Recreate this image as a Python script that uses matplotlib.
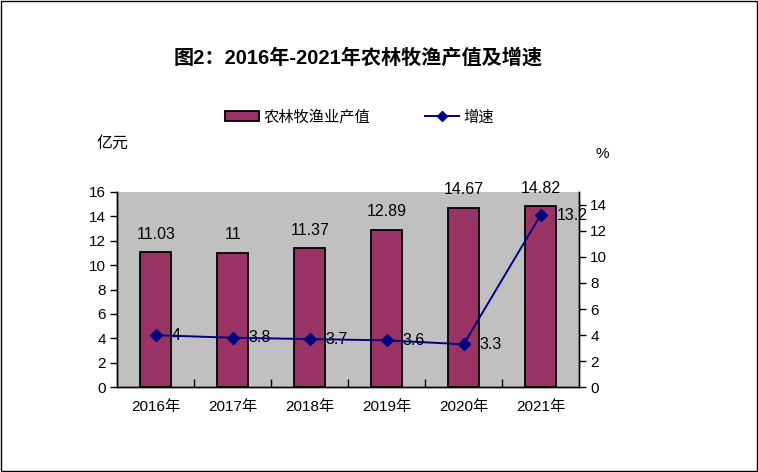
import matplotlib
matplotlib.use('Agg')
import matplotlib.pyplot as plt
import matplotlib.patches as mpatches
from matplotlib.lines import Line2D

plt.rcParams['font.family'] = ['Liberation Sans', 'Noto Sans CJK SC', 'DejaVu Sans']

# Du lieu
years = ['2016年', '2017年', '2018年', '2019年', '2020年', '2021年']
output_value = [11.03, 11, 11.37, 12.89, 14.67, 14.82]   # 亿元
growth = [4, 3.8, 3.7, 3.6, 3.3, 13.2]                   # %
value_labels = ['11.03', '11', '11.37', '12.89', '14.67', '14.82']
growth_labels = ['4', '3.8', '3.7', '3.6', '3.3', '13.2']

BAR = '#993366'
LINE = '#000080'
GRAY = '#C0C0C0'

fig = plt.figure(figsize=(7.58, 4.72), dpi=100, facecolor='white')
ax = fig.add_axes([0.1548, 0.1794, 0.6091, 0.4145])
ax.set_facecolor(GRAY)

x = list(range(len(years)))
ax.bar(x, output_value, width=0.40, color=BAR, edgecolor='black', linewidth=1.3, zorder=2)
ax.set_xlim(-0.5, len(years) - 0.5)
ax.set_ylim(0, 16)
ax.set_yticks(range(0, 17, 2))

for xi, v, lab in zip(x, output_value, value_labels):
    ax.annotate(lab, (xi, v), xytext=(0, 13), textcoords='offset points',
                ha='center', va='center', fontsize=11.5, color='black',
                annotation_clip=False)

ax2 = ax.twinx()
ax2.set_ylim(0, 15)
ax2.set_yticks(range(0, 15, 2))
ax2.plot(x, growth, color=LINE, linewidth=1.4, marker='D', markersize=6,
         markerfacecolor=LINE, markeredgecolor=LINE, zorder=5)
for xi, g, lab in zip(x, growth, growth_labels):
    ax2.annotate(lab, (xi, g), xytext=(11.5, 0), textcoords='offset points',
                 ha='left', va='center', fontsize=11.5, color='black')

# Truc
for a in (ax, ax2):
    a.spines['top'].set_visible(False)
    for s in ('left', 'right', 'bottom'):
        a.spines[s].set_color('black')
        a.spines[s].set_linewidth(1.0)

ax.tick_params(axis='y', direction='out', length=5, width=1, labelsize=11, pad=3)
ax2.tick_params(axis='y', direction='out', length=5, width=1, labelsize=11, pad=3)
ax.set_xticks(x)
ax.set_xticklabels(years, fontsize=11)
ax.tick_params(axis='x', length=0, pad=9)
# vach chia giua cac nhom (huong vao trong)
ax.set_xticks([i + 0.5 for i in x[:-1]], minor=True)
ax.tick_params(axis='x', which='minor', direction='in', length=6, width=1)

fig.text(0.1484, 0.697, '亿元', fontsize=11.5, ha='center', va='center')
fig.text(0.794, 0.673, '%', fontsize=11, ha='center', va='center')

fig.text(0.473, 0.877, '图2：2016年-2021年农林牧渔产值及增速', fontsize=14.5,
         fontweight='bold', ha='center', va='center')

handles = [
    mpatches.Patch(facecolor=BAR, edgecolor='black', linewidth=1.3, label='农林牧渔业产值'),
    Line2D([0], [0], color=LINE, linewidth=1.4, marker='D', markersize=5,
           markerfacecolor=LINE, label='增速'),
]
fig.legend(handles=handles, loc='center', bbox_to_anchor=(0.474, 0.752), ncol=2,
           frameon=False, fontsize=11, handlelength=2.2, handleheight=0.7,
           handletextpad=0.3, columnspacing=3.6)

# Khung vien
fig.patches.append(mpatches.Rectangle((0.0015, 0.002), 0.997, 0.995, transform=fig.transFigure,
                                      fill=False, edgecolor='black', linewidth=1.0))

fig.savefig('out.png', dpi=100, facecolor='white')
plt.close(fig)
